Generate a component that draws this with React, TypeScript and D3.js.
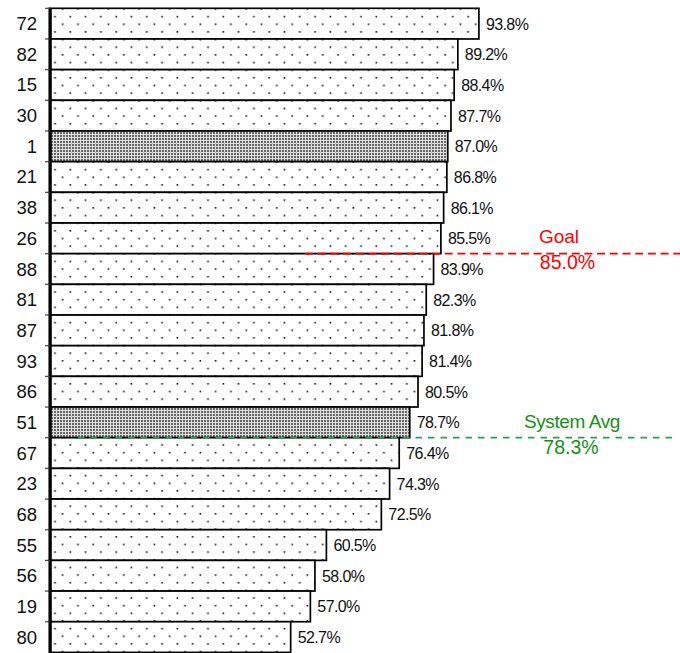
import React from "react";
import * as d3 from "d3";

const categories = ["72","82","15","30","1","21","38","26","88","81","87","93","86","51","67","23","68","55","56","19","80"];
const values = [93.8,89.2,88.4,87.7,87.0,86.8,86.1,85.5,83.9,82.3,81.8,81.4,80.5,78.7,76.4,74.3,72.5,60.5,58.0,57.0,52.7];
const highlighted = ["1","51"];
const goalValue = 85.0;
const goalLabel = "Goal";
const avgValue = 78.3;
const avgLabel = "System Avg";

const W = 680;
const H = 653;

export default function App() {
  const x = d3.scaleLinear().domain([0, 100]).range([49.3, 507.3]);
  const y = d3.scaleBand<string>().domain(categories).range([8.3, 652.4]).padding(0);
  const bw = y.bandwidth();
  const fmt = (v: number) => v.toFixed(1) + "%";

  const boundaryBelow = (v: number) => {
    const i = values.findIndex((d) => d < v);
    return y(categories[i]) as number;
  };
  const goalY = boundaryBelow(goalValue);
  const avgY = boundaryBelow(avgValue);

  return (
    <svg
      width={W}
      height={H}
      style={{ position: "absolute", left: 0, top: 0, background: "#fff" }}
      fontFamily="'Liberation Sans', Arial, sans-serif"
    >
      <defs>
        <pattern id="dots" patternUnits="userSpaceOnUse" width={15.3} height={15.3} x={3} y={0.5}>
          <rect width={15.3} height={15.3} fill="#fff" />
          <rect x={5.3} y={0} width={1.6} height={1.6} fill="#111" />
          <rect x={12.95} y={7.65} width={1.6} height={1.6} fill="#111" />
        </pattern>
        <pattern id="dense" patternUnits="userSpaceOnUse" width={3} height={3}>
          <rect width={3} height={3} fill="#e0e0e0" />
          <rect x={0} y={0} width={2} height={2} fill="#666" />
        </pattern>
      </defs>

      {categories.map((c, i) => (
        <rect
          key={c}
          x={x(0)}
          y={y(c)}
          width={x(values[i]) - x(0)}
          height={bw}
          fill={highlighted.includes(c) ? "url(#dense)" : "url(#dots)"}
          stroke="#000"
          strokeWidth={1.7}
        />
      ))}

      {categories.map((c) => (
        <line key={"t" + c} x1={45} x2={51} y1={y(c)} y2={y(c)} stroke="#444" strokeWidth={1.2} />
      ))}
      <line x1={50.8} x2={50.8} y1={y(categories[0])} y2={H} stroke="#000" strokeWidth={2} />

      {categories.map((c) => (
        <text key={"c" + c} x={37} y={(y(c) as number) + bw / 2 + 6.5} textAnchor="end" fontSize={18.5} fill="#111">
          {c}
        </text>
      ))}

      {categories.map((c, i) => (
        <text
          key={"v" + c}
          x={x(values[i]) + 7}
          y={(y(c) as number) + bw / 2 + 6}
          fontSize={16}
          letterSpacing={-0.6}
          fill="#111"
        >
          {fmt(values[i])}
        </text>
      ))}

      <line x1={305} x2={680} y1={goalY} y2={goalY} stroke="#ff0000" strokeWidth={1.7} strokeDasharray="8,4.7" />
      <text x={559} y={242.5} textAnchor="middle" fontSize={19} fill="#ff0000">{goalLabel}</text>
      <text x={567.5} y={269} textAnchor="middle" fontSize={19.5} fill="#ff0000">{fmt(goalValue)}</text>

      <line x1={78} x2={677} y1={avgY} y2={avgY} stroke="#2a9a5e" strokeWidth={1.7} strokeDasharray="6.5,6" />
      <text x={572} y={428} textAnchor="middle" fontSize={19} letterSpacing={-0.4} fill="#159015">{avgLabel}</text>
      <text x={571} y={453.5} textAnchor="middle" fontSize={19.5} fill="#159015">{fmt(avgValue)}</text>
    </svg>
  );
}
